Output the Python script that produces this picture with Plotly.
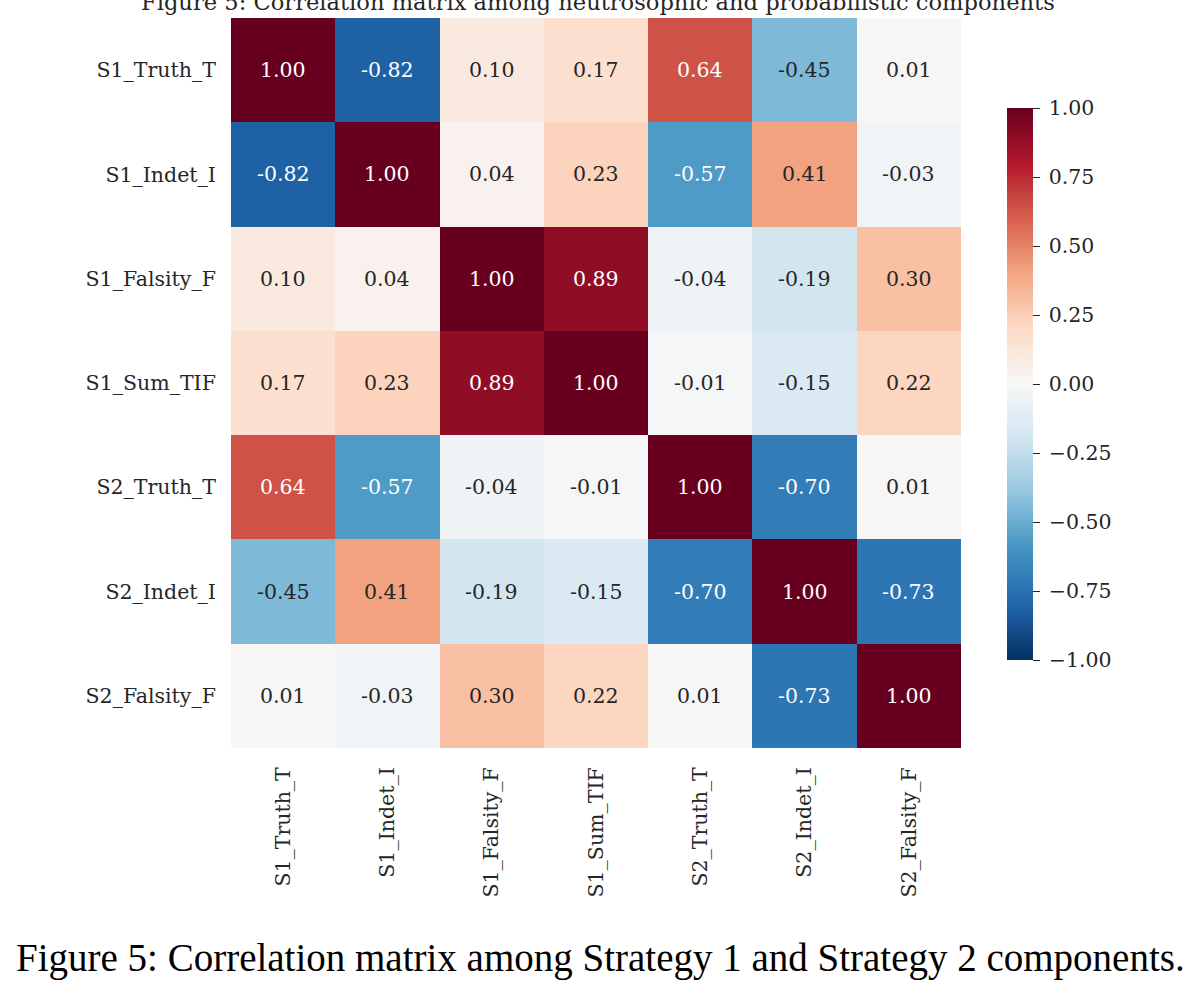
import plotly.graph_objects as go

labels = ["S1_Truth_T", "S1_Indet_I", "S1_Falsity_F", "S1_Sum_TIF",
          "S2_Truth_T", "S2_Indet_I", "S2_Falsity_F"]

corr = [
    [1.00, -0.82, 0.10, 0.17, 0.64, -0.45, 0.01],
    [-0.82, 1.00, 0.04, 0.23, -0.57, 0.41, -0.03],
    [0.10, 0.04, 1.00, 0.89, -0.04, -0.19, 0.30],
    [0.17, 0.23, 0.89, 1.00, -0.01, -0.15, 0.22],
    [0.64, -0.57, -0.04, -0.01, 1.00, -0.70, 0.01],
    [-0.45, 0.41, -0.19, -0.15, -0.70, 1.00, -0.73],
    [0.01, -0.03, 0.30, 0.22, 0.01, -0.73, 1.00],
]

cbar_ticks = [-1.0, -0.75, -0.5, -0.25, 0.0, 0.25, 0.5, 0.75, 1.0]
cbar_ticktext = ["\u2005" + f"{v:.2f}".replace("-", "\u2212") for v in cbar_ticks]

title_text = "Figure 5: Correlation matrix among neutrosophic and probabilistic components"
caption_text = "Figure 5: Correlation matrix among Strategy 1 and Strategy 2 components."

rdbu_r = ["#053061", "#2166ac", "#4393c3", "#92c5de", "#d1e5f0", "#f7f7f7",
          "#fddbc7", "#f4a582", "#d6604d", "#b2182b", "#67001f"]
colorscale = [[i / 10, c] for i, c in enumerate(rdbu_r)]

FS = 20.5

fig = go.Figure(go.Heatmap(
    z=corr, x=labels, y=labels, zmin=-1, zmax=1,
    colorscale=colorscale, xgap=0, ygap=0,
    hoverinfo="skip",
    colorbar=dict(
        x=(1007 - 231) / 730, xanchor="left", y=0.4986, yanchor="middle",
        thickness=26, len=572, lenmode="pixels", xpad=0, ypad=10,
        outlinewidth=0, ticks="outside", ticklen=7, tickwidth=1.3,
        tickcolor="#262626",
        tickvals=cbar_ticks, ticktext=cbar_ticktext,
        tickfont=dict(family="DejaVu Serif", size=FS, color="#262626"),
    ),
))

annotations = []
for i, row in enumerate(corr):
    for j, v in enumerate(row):
        col = "white" if abs(v) >= 0.5 else "#262626"
        annotations.append(dict(
            x=labels[j], y=labels[i], text=f"{v:.2f}", showarrow=False,
            font=dict(family="DejaVu Serif", size=FS, color=col)))

annotations.append(dict(
    xref="paper", yref="paper", x=(598 - 231) / 730, y=1.0219, yanchor="middle",
    text=title_text, showarrow=False,
    font=dict(family="DejaVu Serif", size=22.6, color="#262626")))
annotations.append(dict(
    xref="paper", yref="paper", x=(600 - 231) / 730, y=(748 - 958) / 730,
    yanchor="middle", xanchor="center",
    text=caption_text, showarrow=False,
    font=dict(family="Liberation Serif", size=39, color="black")))

fig.update_layout(
    width=1199, height=991,
    margin=dict(l=231, r=238, t=18, b=243),
    paper_bgcolor="white", plot_bgcolor="white",
    annotations=annotations,
    xaxis=dict(tickangle=-90, ticks="outside", ticklen=10, tickcolor="rgba(0,0,0,0)",
               tickfont=dict(family="DejaVu Serif", size=FS, color="#262626"),
               showgrid=False, zeroline=False, showline=False),
    yaxis=dict(autorange="reversed", ticks="outside", ticklen=10, tickcolor="rgba(0,0,0,0)",
               tickfont=dict(family="DejaVu Serif", size=FS, color="#262626"),
               showgrid=False, zeroline=False, showline=False),
)

fig.write_html("out.html")
